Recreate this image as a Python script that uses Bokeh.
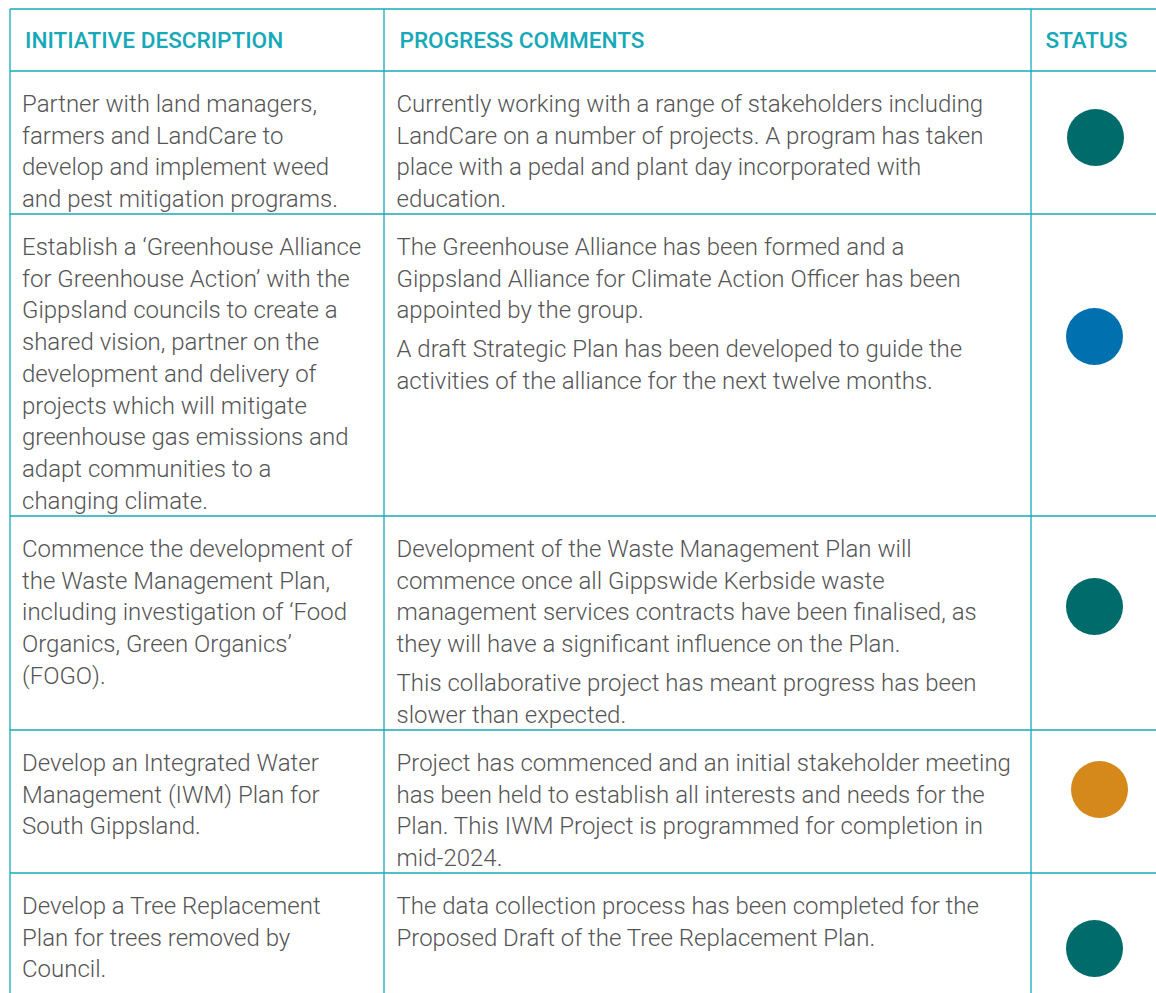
from bokeh.plotting import figure
from bokeh.models import Range1d, ColumnDataSource
from bokeh.core.properties import value
from bokeh.embed import file_html
from bokeh.resources import INLINE

# ---------------- data ----------------
headers = ["INITIATIVE DESCRIPTION", "PROGRESS COMMENTS", "STATUS"]

descriptions = [
    ["Partner with land managers,", "farmers and LandCare to",
     "develop and implement weed", "and pest mitigation programs."],
    ["Establish a \u2018Greenhouse Alliance", "for Greenhouse Action\u2019 with the",
     "Gippsland councils to create a", "shared vision, partner on the",
     "development and delivery of", "projects which will mitigate",
     "greenhouse gas emissions and", "adapt communities to a", "changing climate."],
    ["Commence the development of", "the Waste Management Plan,",
     "including investigation of \u2018Food", "Organics, Green Organics\u2019", "(FOGO)."],
    ["Develop an Integrated Water", "Management (IWM) Plan for", "South Gippsland."],
    ["Develop a Tree Replacement", "Plan for trees removed by", "Council."],
]

comments = [
    [["Currently working with a range of stakeholders including",
      "LandCare on a number of projects. A program has taken",
      "place with a pedal and plant day incorporated with",
      "education."]],
    [["The Greenhouse Alliance has been formed and a",
      "Gippsland Alliance for Climate Action Officer has been",
      "appointed by the group."],
     ["A draft Strategic Plan has been developed to guide the",
      "activities of the alliance for the next twelve months."]],
    [["Development of the Waste Management Plan will",
      "commence once all Gippswide Kerbside waste",
      "management services contracts have been finalised, as",
      "they will have a significant influence on the Plan."],
     ["This collaborative project has meant progress has been",
      "slower than expected."]],
    [["Project has commenced and an initial stakeholder meeting",
      "has been held to establish all interests and needs for the",
      "Plan. This IWM Project is programmed for completion in",
      "mid-2024."]],
    [["The data collection process has been completed for the",
      "Proposed Draft of the Tree Replacement Plan."]],
]

statuses = ["on track", "completed", "on track", "delayed", "on track"]
status_colors = {"on track": "#006B6B", "completed": "#0070AF", "delayed": "#D4891A"}

# ---------------- layout (page pixels) ----------------
W, H = 1156, 993
table_top = 8.5
row_tops = [70.5, 213.5, 515.5, 729.5, 872.5]   # horizontal rule positions
col_lines = [9.5, 383.5, 1030.5]                 # vertical rule positions
text_x = [21.5, 396]
header_x = [24.5, 399, 1045]
header_base = 39.5
first_base_off = 33
line_h = 31.7
para_gap = 7
status_cx = [1095, 1094, 1094, 1099, 1094]
status_cy = [137, 336, 606, 789, 948]
rule_color = "#17A9B8"

p = figure(width=W, height=H, output_backend="svg", toolbar_location=None,
           x_range=Range1d(0, W), y_range=Range1d(H, 0), min_border=0)
p.axis.visible = False
p.grid.visible = False
p.outline_line_color = None
p.background_fill_color = "white"
p.border_fill_color = "white"

# rules
hy = [table_top] + row_tops
p.segment(x0=[col_lines[0]] * len(hy), y0=hy, x1=[W] * len(hy), y1=hy,
          line_color=rule_color, line_width=1.3)
p.segment(x0=col_lines, y0=[table_top] * 3, x1=col_lines, y1=[H] * 3,
          line_color=rule_color, line_width=1.3)

# headers
p.text(x=header_x, y=[header_base] * 3, text=headers, text_font=value("Roboto Medium"),
       text_font_size="22.6px", text_color="#17A9B8", text_baseline="alphabetic")

# body text
xs, ys, ts = [], [], []
for i, top in enumerate(row_tops):
    y = top + first_base_off
    for ln in descriptions[i]:
        xs.append(text_x[0]); ys.append(y); ts.append(ln)
        y += line_h
    y = top + first_base_off
    for k, para in enumerate(comments[i]):
        if k > 0:
            y += para_gap
        for ln in para:
            xs.append(text_x[1]); ys.append(y); ts.append(ln)
            y += line_h

src = ColumnDataSource(dict(x=xs, y=ys, t=ts))
p.text(x="x", y="y", text="t", source=src, text_font=value("Roboto Light"),
       text_font_size="24px", text_color="#555555", text_baseline="alphabetic")

# status dots
cols = [status_colors[s] for s in statuses]
p.scatter(x=status_cx, y=status_cy, size=57, fill_color=cols, line_color=None)

open("out.html", "w").write(file_html(p, INLINE))
